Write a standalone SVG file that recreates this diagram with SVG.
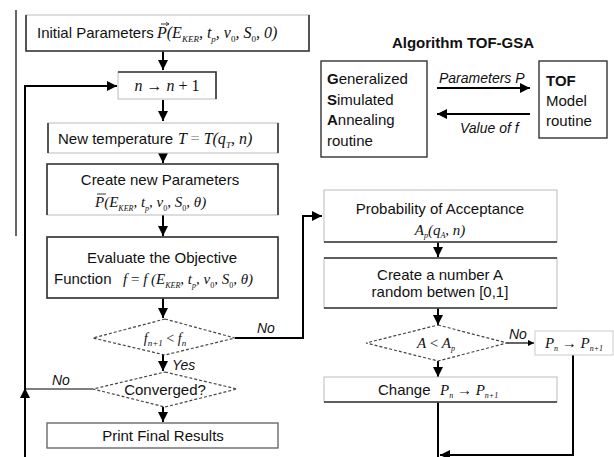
<svg xmlns="http://www.w3.org/2000/svg" width="614" height="457" viewBox="0 0 614 457">
  <style>
    .sans { font-family: "Liberation Sans", Arial, sans-serif; fill: #111; font-size: 15px; }
    .math { font-family: "Liberation Serif", "Times New Roman", serif; font-style: italic; fill: #111; }
    .up { font-style: normal; }
    .box { fill: #fff; stroke: #bbb; stroke-width: 1; }
    .edge { stroke: #333; stroke-width: 1.6; fill: none; }
    .dia { fill: #fff; stroke: #444; stroke-width: 1.2; stroke-dasharray: 3 2; }
    .wire { stroke: #000; stroke-width: 2; fill: none; }
    .thin { stroke: #000; stroke-width: 1.2; fill: none; }
    .accent { stroke: #222; stroke-width: 0.9; fill: none; }
    .lbl { font-family: "Liberation Sans", Arial, sans-serif; font-style: italic; fill: #111; font-size: 14px; }
  </style>
  <defs>
    <marker id="ah" viewBox="0 0 10 10" refX="10" refY="5" markerWidth="5" markerHeight="5" orient="auto" markerUnits="strokeWidth">
      <path d="M0,0 L10,5 L0,10 z" fill="#000"/>
    </marker>
    <marker id="vec" viewBox="0 0 10 10" refX="9" refY="5" markerWidth="4" markerHeight="4" orient="auto" markerUnits="strokeWidth">
      <path d="M0,0 L10,5 L0,10" fill="none" stroke="#222" stroke-width="2"/>
    </marker>
  </defs>

  <rect width="614" height="457" fill="#fff"/>

  <!-- connectors -->
  <g id="connectors">
    <!-- thin margin rule -->
    <line class="thin" x1="16" y1="10" x2="16" y2="236"/>
    <!-- main column -->
    <line class="wire" x1="163" y1="51" x2="163" y2="70" marker-end="url(#ah)"/>
    <line class="wire" x1="163" y1="100" x2="163" y2="121" marker-end="url(#ah)"/>
    <line class="wire" x1="163" y1="153" x2="163" y2="163" marker-end="url(#ah)"/>
    <line class="wire" x1="163" y1="215" x2="163" y2="236" marker-end="url(#ah)"/>
    <line class="wire" x1="163" y1="298" x2="163" y2="318" marker-end="url(#ah)"/>
    <line class="wire" x1="163" y1="355" x2="163" y2="371" marker-end="url(#ah)"/>
    <line class="wire" x1="163" y1="407" x2="163" y2="422" marker-end="url(#ah)"/>
    <!-- outer loop back to n -> n+1 -->
    <line class="wire" x1="25" y1="457" x2="25" y2="388" marker-end="url(#ah)"/>
    <polyline class="wire" points="25,390 25,86 117,86" marker-end="url(#ah)"/>
    <line class="thin" x1="25" y1="389" x2="93" y2="389"/>
    <!-- rejection branch to acceptance test -->
    <polyline class="wire" points="235,338 303,338 303,216 322,216" marker-end="url(#ah)"/>
    <!-- right column -->
    <line class="wire" x1="438" y1="242" x2="438" y2="257" marker-end="url(#ah)"/>
    <line class="wire" x1="438" y1="308" x2="438" y2="325" marker-end="url(#ah)"/>
    <line class="wire" x1="438" y1="361" x2="438" y2="377" marker-end="url(#ah)"/>
    <line class="thin" x1="507" y1="343" x2="534" y2="343" marker-end="url(#ah)"/>
    <line class="wire" x1="438" y1="402" x2="438" y2="457"/>
    <polyline class="wire" points="573,355 573,455 440,455" marker-end="url(#ah)"/>
    <!-- GSA <-> TOF exchange -->
    <line class="wire" x1="437" y1="88" x2="530" y2="88" marker-end="url(#ah)"/>
    <line class="wire" x1="530" y1="114" x2="437" y2="114" marker-end="url(#ah)"/>
  </g>

  <!-- left column nodes -->
  <g id="initial">
    <rect class="box" x="26" y="15" width="283" height="36"/>
    <polyline class="edge" points="26,15 26,51 309,51 309,15"/>
    <text class="sans" x="37" y="38" font-size="14">Initial Parameters</text>
    <text class="math" x="157" y="38" font-size="16">P(E<tspan font-size="9" dy="4">KER</tspan><tspan dy="-4">, t</tspan><tspan font-size="9" dy="4">p</tspan><tspan dy="-4">, v</tspan><tspan font-size="9" dy="4" class="up">0</tspan><tspan dy="-4">, S</tspan><tspan font-size="9" dy="4" class="up">0</tspan><tspan dy="-4">, 0)</tspan></text>
    <!-- vector accent over P -->
    <line class="accent" x1="161" y1="24" x2="169" y2="24" marker-end="url(#vec)"/>
  </g>

  <g id="n-step">
    <rect class="box" x="118" y="72" width="98" height="27"/>
    <polyline class="edge" points="118,72 216,72 216,99"/>
    <text class="math" x="167" y="91" font-size="16" text-anchor="middle">n → n <tspan class="up">+ 1</tspan></text>
  </g>

  <g id="temperature">
    <rect class="box" x="48" y="123" width="230" height="30"/>
    <line class="edge" x1="48" y1="123" x2="48" y2="153"/>
    <line class="edge" x1="278" y1="123" x2="278" y2="153"/>
    <text class="sans" x="58" y="144" font-size="13.5">New temperature</text>
    <text class="math" x="178" y="144" font-size="16">T <tspan class="up" fill="#999">=</tspan> T(q<tspan font-size="9" dy="4">T</tspan><tspan dy="-4">, n)</tspan></text>
  </g>

  <g id="new-params">
    <rect class="box" x="47" y="164" width="231" height="51" stroke="none"/>
    <polyline class="edge" points="47,215 47,164 278,164 278,215"/>
    <text class="sans" x="160" y="185" text-anchor="middle">Create new Parameters</text>
    <text class="math" x="95" y="207" font-size="15">P(E<tspan font-size="8" dy="4">KER</tspan><tspan dy="-4">, t</tspan><tspan font-size="8" dy="4">p</tspan><tspan dy="-4">, v</tspan><tspan font-size="8" dy="4" class="up">0</tspan><tspan dy="-4">, S</tspan><tspan font-size="8" dy="4" class="up">0</tspan><tspan dy="-4">, θ)</tspan></text>
    <!-- bar accent over P -->
    <line class="accent" x1="97" y1="194" x2="106" y2="194"/>
  </g>

  <g id="evaluate">
    <rect class="box" x="47" y="237" width="231" height="61"/>
    <rect x="47" y="237" width="231" height="61" class="edge"/>
    <text class="sans" x="162" y="263" text-anchor="middle">Evaluate the Objective</text>
    <text class="sans" x="54" y="284">Function</text>
    <text class="math" x="123" y="284" font-size="15">f <tspan class="up">=</tspan> f (E<tspan font-size="8" dy="4">KER</tspan><tspan dy="-4">, t</tspan><tspan font-size="8" dy="4">p</tspan><tspan dy="-4">, v</tspan><tspan font-size="8" dy="4" class="up">0</tspan><tspan dy="-4">, S</tspan><tspan font-size="8" dy="4" class="up">0</tspan><tspan dy="-4">, θ)</tspan></text>
  </g>

  <g id="improved">
    <polygon class="dia" points="165,319 235,338 165,355 93,338"/>
    <text class="math" x="165" y="343" font-size="14" text-anchor="middle">f<tspan font-size="9" dy="3">n+1</tspan><tspan dy="-3"> <tspan class="up">&lt;</tspan> f</tspan><tspan font-size="9" dy="3">n</tspan></text>
    <text class="lbl" x="257" y="333">No</text>
    <text class="lbl" x="172" y="370">Yes</text>
  </g>

  <g id="converged">
    <polygon class="dia" points="165,372 237,389 165,407 93,389"/>
    <text class="sans" x="165" y="395" text-anchor="middle">Converged?</text>
    <text class="lbl" x="52" y="385">No</text>
  </g>

  <g id="print">
    <rect class="box" x="47" y="423" width="231" height="25"/>
    <rect x="47" y="423" width="231" height="25" fill="none" stroke="#666" stroke-width="1.2"/>
    <text class="sans" x="163" y="441" text-anchor="middle">Print Final Results</text>
  </g>

  <!-- overview of the algorithm -->
  <g id="title">
    <text class="sans" x="463" y="48" font-size="17" font-weight="bold" text-anchor="middle">Algorithm TOF-GSA</text>
  </g>

  <g id="gsa">
    <rect x="321" y="61" width="106" height="96" fill="#fff" stroke="#333" stroke-width="1.4"/>
    <text class="sans" x="327" y="84" font-size="16.5"><tspan font-weight="bold">G</tspan>eneralized</text>
    <text class="sans" x="327" y="105" font-size="16.5"><tspan font-weight="bold">S</tspan>imulated</text>
    <text class="sans" x="327" y="125" font-size="16.5"><tspan font-weight="bold">A</tspan>nnealing</text>
    <text class="sans" x="327" y="146" font-size="16.5">routine</text>
  </g>

  <g id="tof">
    <rect x="539" y="61" width="68" height="77" fill="#fff" stroke="#333" stroke-width="1.4"/>
    <text class="sans" x="546" y="86" font-size="16.5" font-weight="bold">TOF</text>
    <text class="sans" x="546" y="106" font-size="16.5">Model</text>
    <text class="sans" x="546" y="126" font-size="16.5">routine</text>
  </g>

  <g id="exchange-labels">
    <text class="lbl" x="439" y="83" font-size="12">Parameters P</text>
    <text class="lbl" x="460" y="133" font-size="12">Value of f</text>
  </g>

  <!-- acceptance branch -->
  <g id="acceptance">
    <rect class="box" x="324" y="190" width="233" height="52"/>
    <line class="edge" x1="324" y1="242" x2="557" y2="242"/>
    <text class="sans" x="440" y="214" text-anchor="middle">Probability of Acceptance</text>
    <text class="math" x="440" y="235" font-size="15" text-anchor="middle">A<tspan font-size="8" dy="3">p</tspan><tspan dy="-3">(q</tspan><tspan font-size="8" dy="3">A</tspan><tspan dy="-3">, n)</tspan></text>
  </g>

  <g id="random">
    <rect class="box" x="324" y="258" width="233" height="50"/>
    <line class="edge" x1="324" y1="258" x2="557" y2="258"/>
    <line class="edge" x1="324" y1="308" x2="557" y2="308"/>
    <text class="sans" x="440" y="280" text-anchor="middle">Create a number A</text>
    <text class="sans" x="440" y="297" text-anchor="middle">random betwen [0,1]</text>
  </g>

  <g id="accept-test">
    <polygon class="dia" points="438,325 507,343 438,361 366,343"/>
    <text class="math" x="436" y="348" font-size="15" text-anchor="middle">A <tspan class="up">&lt;</tspan> A<tspan font-size="8" dy="3">p</tspan></text>
    <text class="lbl" x="509" y="339">No</text>
  </g>

  <g id="keep">
    <rect x="535" y="331" width="78" height="24" fill="#fff" stroke="#ccc" stroke-width="1"/>
    <text class="math" x="574" y="348" font-size="15" text-anchor="middle">P<tspan font-size="8" dy="3">n</tspan><tspan dy="-3"> → P</tspan><tspan font-size="8" dy="3">n+1</tspan></text>
  </g>

  <g id="change">
    <rect class="box" x="324" y="377" width="233" height="25"/>
    <line class="edge" x1="324" y1="402" x2="557" y2="402"/>
    <text class="sans" x="378" y="395">Change</text>
    <text class="math" x="440" y="395" font-size="15">P<tspan font-size="8" dy="3">n</tspan><tspan dy="-3"> → P</tspan><tspan font-size="8" dy="3">n+1</tspan></text>
  </g>
</svg>
